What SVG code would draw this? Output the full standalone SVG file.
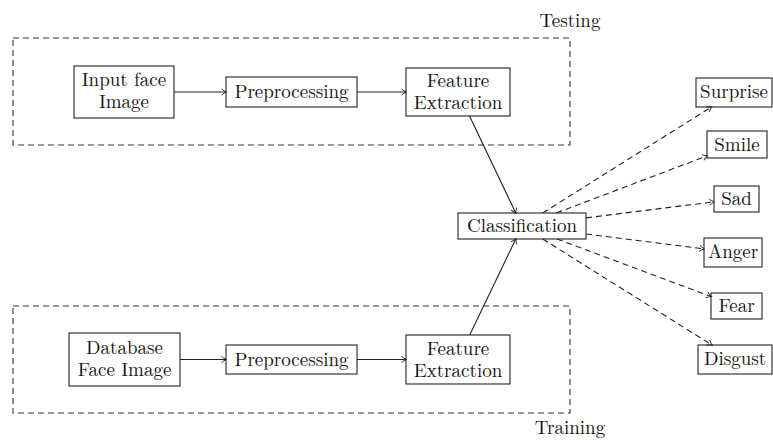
<svg xmlns="http://www.w3.org/2000/svg" width="773" height="440" viewBox="0 0 773 440">
<defs>
<marker id="arr" markerWidth="8" markerHeight="8" refX="6" refY="4" orient="auto" markerUnits="userSpaceOnUse">
<path d="M1.5,1 Q4,3 6.5,4 Q4,5 1.5,7" fill="none" stroke="#222" stroke-width="0.9"/>
</marker>
<style>
rect.n{fill:#fff;stroke:#222;stroke-width:1.1}
rect.g{fill:none;stroke:#333;stroke-width:1.1;stroke-dasharray:6,4}
text{font-size:19px;fill:#111;text-anchor:middle}
.c line{stroke:#222;stroke-width:1.1;marker-end:url(#arr)}
.c line.d{stroke-dasharray:6,4}
</style>
</defs>
<rect width="773" height="440" fill="#fff"/>
<g font-family="Latin Modern Roman, Liberation Serif, serif">
<g id="testing">
<rect class="g" x="13" y="38" width="557" height="107"/>
<text x="570" y="27">Testing</text>
</g>
<g id="training">
<rect class="g" x="13" y="306" width="557" height="107"/>
<text x="570" y="434">Training</text>
</g>
<g id="input"><rect class="n" x="74" y="66" width="100" height="52"/><text x="124" y="86">Input face<tspan x="124" y="108">Image</tspan></text></g>
<g id="pre1"><rect class="n" x="226" y="77" width="131" height="30"/><text x="291.5" y="98">Preprocessing</text></g>
<g id="fe1"><rect class="n" x="406" y="68" width="104" height="48"/><text x="458" y="87">Feature<tspan x="458" y="109">Extraction</tspan></text></g>
<g id="db"><rect class="n" x="69" y="333" width="111" height="53"/><text x="124.5" y="354">Database<tspan x="124.5" y="376">Face Image</tspan></text></g>
<g id="pre2"><rect class="n" x="226" y="345" width="131" height="29"/><text x="291.5" y="366">Preprocessing</text></g>
<g id="fe2"><rect class="n" x="406" y="335" width="104" height="49"/><text x="458" y="355">Feature<tspan x="458" y="377">Extraction</tspan></text></g>
<g id="cls"><rect class="n" x="458" y="213" width="128" height="26"/><text x="522" y="232">Classification</text></g>
<g id="surprise"><rect class="n" x="696" y="78" width="76" height="29"/><text x="734" y="98">Surprise</text></g>
<g id="smile"><rect class="n" x="707" y="131" width="60" height="27"/><text x="737" y="151">Smile</text></g>
<g id="sad"><rect class="n" x="714" y="186" width="45" height="26"/><text x="736.5" y="205">Sad</text></g>
<g id="anger"><rect class="n" x="704" y="238" width="58" height="29"/><text x="733" y="258">Anger</text></g>
<g id="fear"><rect class="n" x="711" y="293" width="51" height="26"/><text x="736.5" y="312">Fear</text></g>
<g id="disgust"><rect class="n" x="698" y="345" width="74" height="29"/><text x="735" y="365">Disgust</text></g>
</g>
<g class="c" id="connectors">
<line x1="174" y1="92" x2="226" y2="92"/>
<line x1="357" y1="92" x2="406" y2="92"/>
<line x1="180" y1="359.5" x2="226" y2="359.5"/>
<line x1="357" y1="359.5" x2="406" y2="359.5"/>
<line x1="469.5" y1="116" x2="515.8" y2="213"/>
<line x1="469.7" y1="335" x2="515.8" y2="239"/>
<line class="d" x1="542.7" y1="213" x2="711.4" y2="107"/>
<line class="d" x1="556.3" y1="213" x2="707" y2="155.9"/>
<line class="d" x1="586" y1="217.9" x2="714" y2="201.8"/>
<line class="d" x1="586" y1="234" x2="704" y2="248.9"/>
<line class="d" x1="556.9" y1="239" x2="711" y2="296.5"/>
<line class="d" x1="542.7" y1="239" x2="711.9" y2="345"/>
</g>
</svg>
